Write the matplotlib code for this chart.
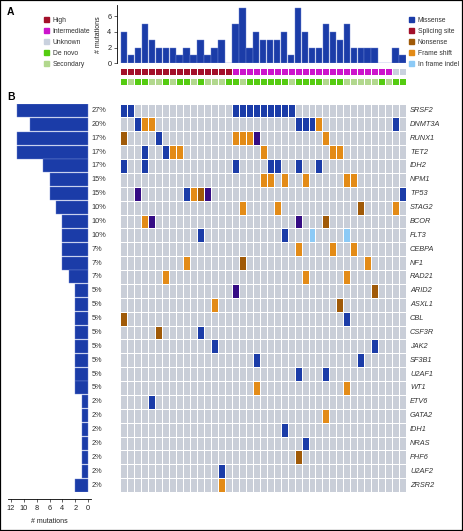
import numpy as np
import matplotlib.pyplot as plt
from matplotlib.colors import ListedColormap
from matplotlib.patches import Patch, Rectangle
from matplotlib import transforms

W, H = 463, 531

# genes (rows of panel B), with frequency labels and mutation counts (left bars)
genes = ['SRSF2', 'DNMT3A', 'RUNX1', 'TET2', 'IDH2', 'NPM1', 'TP53', 'STAG2', 'BCOR', 'FLT3',
         'CEBPA', 'NF1', 'RAD21', 'ARID2', 'ASXL1', 'CBL', 'CSF3R', 'JAK2', 'SF3B1', 'U2AF1',
         'WT1', 'ETV6', 'GATA2', 'IDH1', 'NRAS', 'PHF6', 'U2AF2', 'ZRSR2']
gene_pct = ['27%', '20%', '17%', '17%', '17%', '15%', '15%', '10%', '10%', '10%',
            '7%', '7%', '7%', '5%', '5%', '5%', '5%', '5%', '5%', '5%',
            '5%', '2%', '2%', '2%', '2%', '2%', '2%', '2%']
gene_mutations = [11, 9, 11, 11, 7, 6, 6, 5, 4, 4, 4, 4, 3, 2, 2, 2, 2, 2, 2, 2, 2,
                  1, 1, 1, 1, 1, 1, 2]

# mutations per patient (top bars), 41 patients
patient_mutations = [4, 1, 2, 5, 3, 2, 2, 2, 1, 2, 1, 3, 1, 2, 3, 0,
                     5, 7, 2, 4, 3, 3, 3, 4, 1, 7, 4, 2, 2, 5, 4, 3, 5, 2, 2, 2, 2, 0, 0, 2, 1]

# risk: H high, I intermediate, U unknown
risk_codes = 'HHHHHHHHHHHHHHHHIIIIIIIIIIIIIIIIIIIIIIIUU'
# origin: D de novo, S secondary
origin_codes = 'DSDDSSDSDDSDSSSDDSDDDDDDSDDDDSDDSSSSSDSDD'

# mutation type per (patient column) for each gene
# M missense, S splicing site, N nonsense, F frame shift, I in frame indel, X other
hits = [
    [(0, 'M'), (1, 'M'), (16, 'M'), (17, 'M'), (18, 'M'), (19, 'M'), (20, 'M'), (21, 'M'), (22, 'M'), (23, 'M'), (24, 'M')],
    [(2, 'M'), (3, 'F'), (4, 'F'), (25, 'M'), (26, 'M'), (27, 'M'), (28, 'F'), (39, 'M')],
    [(0, 'N'), (5, 'M'), (16, 'F'), (17, 'F'), (18, 'F'), (19, 'X'), (29, 'F')],
    [(3, 'M'), (6, 'M'), (7, 'F'), (8, 'F'), (20, 'F'), (30, 'F'), (31, 'F')],
    [(0, 'M'), (3, 'M'), (16, 'M'), (21, 'M'), (22, 'M'), (25, 'M'), (28, 'M')],
    [(20, 'F'), (21, 'F'), (23, 'F'), (26, 'F'), (32, 'F'), (33, 'F')],
    [(2, 'X'), (9, 'M'), (10, 'F'), (11, 'N'), (12, 'X'), (40, 'M')],
    [(17, 'F'), (22, 'F'), (34, 'N'), (39, 'F')],
    [(3, 'F'), (4, 'X'), (25, 'X'), (29, 'N')],
    [(11, 'M'), (23, 'M'), (27, 'I'), (32, 'I')],
    [(25, 'F'), (30, 'F'), (33, 'F')],
    [(9, 'F'), (17, 'N'), (35, 'F')],
    [(6, 'F'), (26, 'F'), (32, 'F')],
    [(16, 'X'), (36, 'N')],
    [(13, 'F'), (31, 'N')],
    [(0, 'N'), (32, 'M')],
    [(5, 'N'), (11, 'M')],
    [(13, 'M'), (36, 'M')],
    [(19, 'M'), (34, 'M')],
    [(25, 'M'), (29, 'M')],
    [(19, 'F'), (32, 'F')],
    [(4, 'M')],
    [(29, 'F')],
    [(23, 'M')],
    [(26, 'M')],
    [(25, 'N')],
    [(14, 'M')],
    [(14, 'F')],
]

mut_types = ['M', 'S', 'N', 'F', 'I', 'X']
mut_labels = ['Missense', 'Splicing site', 'Nonsense', 'Frame shift', 'In frame indel']

BLUE = '#1b3ca8'
GREY = '#c9ced8'
mut_colors = ['#1b3ca8', '#a3102a', '#a05a08', '#e38b17', '#8ccaf6', '#350c84']
risk_colors = {'H': '#a3102a', 'I': '#cc14cc', 'U': '#c9d1de'}
risk_labels = {'H': 'High', 'I': 'Intermediate', 'U': 'Unknown'}
origin_colors = {'D': '#55cc11', 'S': '#b2d88e'}
origin_labels = {'D': 'De novo', 'S': 'Secondary'}

plt.rcParams['font.family'] = ['Liberation Sans', 'DejaVu Sans']

fig = plt.figure(figsize=(W / 100, H / 100), dpi=100)
fig.patch.set_facecolor('white')


def px_axes(x0, y0, x1, y1):
    return fig.add_axes([x0 / W, 1 - y1 / H, (x1 - x0) / W, (y1 - y0) / H])


n_pat = len(patient_mutations)
n_gene = len(genes)
GX0, GX1 = 120.5, 406
GY0, GY1 = 103.5, 492

# ---- panel B grid
ax = px_axes(GX0, GY0, GX1, GY1)
mat = np.zeros((n_gene, n_pat))
for g, row in enumerate(hits):
    for col, t in row:
        mat[g, col] = mut_types.index(t) + 1
cmap = ListedColormap([GREY] + mut_colors)
ax.pcolormesh(np.arange(n_pat + 1) - 0.5, np.arange(n_gene + 1) - 0.5, mat,
              cmap=cmap, vmin=-0.5, vmax=len(mut_colors) + 0.5,
              edgecolors='white', linewidth=0.6)
ax.set_xlim(-0.5, n_pat - 0.5)
ax.set_ylim(n_gene - 0.5, -0.5)
ax.axis('off')

tr = transforms.blended_transform_factory(fig.transFigure, ax.transData)
for i, (g, p) in enumerate(zip(genes, gene_pct)):
    ax.text(410 / W, i, g, transform=tr, fontsize=5.3, style='italic',
            va='center', ha='left', color='#333333')
    ax.text(91.5 / W, i, p, transform=tr, fontsize=5.3,
            va='center', ha='left', color='#333333')

# ---- left bars (mutations per gene)
axl = px_axes(8.3, GY0, 90.7, GY1)
axl.barh(np.arange(n_gene), gene_mutations, height=0.94, color=BLUE,
         edgecolor='#6f86d2', linewidth=0.3)
axl.set_xlim(12.37, -0.37)
axl.set_ylim(n_gene - 0.5, -0.5)
for s in ['top', 'left', 'right']:
    axl.spines[s].set_visible(False)
axl.spines['bottom'].set_position(('outward', 5))
axl.spines['bottom'].set_linewidth(0.6)
axl.set_yticks([])
axl.set_xticks(np.arange(0, 13, 2))
axl.tick_params(axis='x', labelsize=5.3, length=2, width=0.5, pad=2.5, colors='#222222')
axl.set_xlabel('# mutations', fontsize=5, labelpad=4, color='#222222')

# ---- top bars (mutations per patient)
axt = px_axes(GX0, 5, GX1, 63.3)
axt.bar(np.arange(n_pat), patient_mutations, width=0.92, color=BLUE,
        edgecolor='#6f86d2', linewidth=0.3)
axt.set_xlim(-0.5, n_pat - 0.5)
axt.set_ylim(0, 7.4)
for s in ['top', 'bottom', 'right']:
    axt.spines[s].set_visible(False)
axt.spines['left'].set_position(('outward', 2.5))
axt.spines['left'].set_linewidth(0.6)
axt.set_xticks([])
axt.set_yticks([0, 2, 4, 6])
axt.tick_params(axis='y', labelsize=5.3, length=2, width=0.5, pad=2, colors='#222222')
axt.set_ylabel('# mutations', fontsize=5, labelpad=3.5, color='#222222')

# ---- risk and origin rows
for codes, cdict, (y0, y1) in [(risk_codes, risk_colors, (67.5, 75)),
                               (origin_codes, origin_colors, (78, 85))]:
    keys = list(cdict.keys())
    axr = px_axes(GX0, y0, GX1, y1)
    vals = np.array([[keys.index(c) for c in codes]])
    axr.pcolormesh(np.arange(n_pat + 1) - 0.5, [0, 1], vals,
                   cmap=ListedColormap([cdict[k] for k in keys]),
                   vmin=-0.5, vmax=len(keys) - 0.5,
                   edgecolors='white', linewidth=0.6)
    axr.set_xlim(-0.5, n_pat - 0.5)
    axr.axis('off')

# ---- legends
left_handles = [Patch(color=risk_colors[k], label=risk_labels[k]) for k in 'HIU'] + \
               [Patch(color=origin_colors[k], label=origin_labels[k]) for k in 'DS']
leg_kw = dict(loc='upper left', frameon=False, fontsize=4.9, handlelength=0.85,
              handleheight=0.85, handletextpad=0.5, labelspacing=0.58,
              borderpad=0, borderaxespad=0, labelcolor='#333333')
fig.legend(handles=left_handles, bbox_to_anchor=(43.5 / W, 1 - 17 / H), **leg_kw)
right_handles = [Patch(color=c, label=l) for c, l in zip(mut_colors, mut_labels)]
fig.legend(handles=right_handles, bbox_to_anchor=(408.5 / W, 1 - 17 / H), **leg_kw)

# ---- panel letters and frame
fig.text(7 / W, 1 - 12 / H, 'A', fontsize=7.5, weight='bold', va='center')
fig.text(7 / W, 1 - 97 / H, 'B', fontsize=7.5, weight='bold', va='center')
fig.add_artist(Rectangle((0, 0), 1, 1, transform=fig.transFigure, fill=False,
                         edgecolor='black', linewidth=1.6))

fig.savefig('out.png', dpi=100)
